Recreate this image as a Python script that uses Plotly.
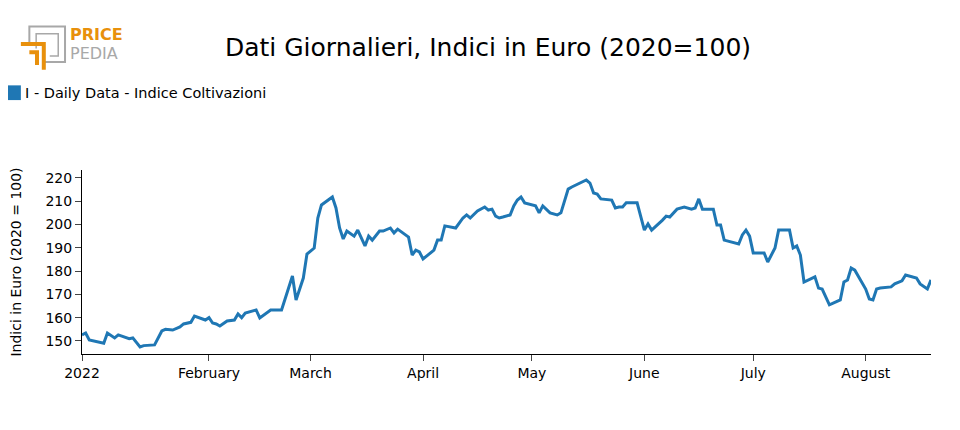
import datetime as dt
import plotly.graph_objects as go

# day offsets from 2022-01-01 and index values
days = [-4, -3, -2, 0, 2, 3, 5, 6, 9, 10, 12, 13, 16, 18, 19, 21, 23, 24, 26, 27, 30,
        31, 32, 33, 34, 36, 38, 39, 40, 41, 44, 45, 47, 48, 51, 52, 53, 54, 55, 57, 58,
        60, 61, 62, 65, 66, 67, 68, 69, 71, 72, 74, 75, 76, 78, 79, 81, 82, 83, 85, 86, 87, 88, 89,
        90, 93, 94, 95, 96, 99, 101, 102, 103, 105, 107, 108, 109, 110, 111, 112, 114, 115, 116, 117, 118,
        121, 122, 123, 125, 127, 128, 130, 131, 135, 136, 137, 138, 139, 142, 143, 144, 145, 146, 149, 150,
        151, 152, 153, 156, 157, 158, 160, 162, 163, 164, 165, 166, 167, 170, 171, 172, 173, 177, 178, 179, 180, 181,
        184, 185, 187, 188, 191, 192, 193, 194, 195, 198, 199, 200, 202, 205, 206, 207, 208, 209, 212,
        213, 214, 215, 216, 219, 220, 221, 222, 223, 226, 227, 229, 230]
values = [152.6, 153.4, 150.4, 149.6, 149.0, 153.4, 151.3, 152.6, 151.0, 151.3, 147.4, 148.0, 148.3, 154.3, 155.0,
          154.7, 156.0, 157.3, 158.0, 160.7, 159.0,
          160.0, 157.7, 157.3, 156.4, 158.6, 159.0, 161.6, 160.0, 162.0, 163.3, 159.9, 162.0, 163.3, 163.3, 168.5,
          172.7, 177.9, 167.6, 177.0, 187.3,
          189.9, 202.8, 208.4, 211.8, 207.1, 198.5, 193.8, 197.2, 195.0, 197.6, 190.8, 195.0, 193.3, 197.2, 197.2,
          198.5, 196.4, 198.0, 195.5, 194.6, 186.9, 189.0, 188.2,
          185.2, 189.0, 193.3, 193.3, 199.4, 198.5, 202.8, 204.1, 202.8, 205.8, 207.5, 206.2, 206.6, 203.6, 202.8,
          203.2, 204.1, 208.0, 210.5, 211.8, 209.3,
          208.0, 205.0, 208.0, 205.0, 204.1, 205.0, 215.2, 216.1, 219.1, 217.8, 213.5, 213.1, 211.0, 210.5, 207.1,
          207.5, 207.5, 209.3, 209.3, 202.8,
          197.6, 200.2, 197.6, 201.9, 203.6, 203.2, 206.6, 207.5, 207.1, 206.6, 207.1, 211.0, 206.6, 206.6, 199.8,
          199.8, 193.3, 191.6, 195.5, 197.6, 195.0, 187.8,
          187.8, 183.9, 189.9, 197.6, 197.6, 189.9, 190.8, 186.9, 175.3, 177.5, 172.7, 172.3, 165.5, 167.6, 175.3,
          176.2, 181.3, 180.4, 172.3,
          168.0, 167.6, 172.3, 172.7, 173.2, 174.5, 175.3, 175.8, 178.3, 177.0, 174.5, 172.3, 176.2]
series_name = "I - Daily Data - Indice Coltivazioni"

start = dt.date(2022, 1, 1)
dates = [start + dt.timedelta(days=d) for d in days]

tick_vals = ["2021-12-28", "2022-02-01", "2022-03-01", "2022-04-01", "2022-05-01",
             "2022-06-01", "2022-07-01", "2022-08-01"]
tick_text = ["2022", "February", "March", "April", "May", "June", "July", "August"]

BLUE = "#1f77b4"
fig = go.Figure()
fig.add_trace(go.Scatter(x=dates, y=values, mode="lines", showlegend=False,
                         line=dict(color=BLUE, width=3)))

fig.update_layout(
    width=960, height=430,
    font=dict(family="DejaVu Sans", size=14, color="black"),
    plot_bgcolor="white", paper_bgcolor="white",
    margin=dict(l=74, r=37, t=162, b=84),
    title=dict(text="Dati Giornalieri, Indici in Euro (2020=100)", x=0.5, xanchor="center",
               y=0.909, yanchor="middle", font=dict(size=25)),
    showlegend=False,
    xaxis=dict(range=["2021-12-28", "2022-08-19"], tickvals=tick_vals, ticktext=tick_text,
               showline=True, linecolor="black", ticks="outside", ticklen=6, showgrid=False,
               zeroline=False, automargin=False),
    yaxis=dict(range=[144.4, 223.4], dtick=10, showline=True, linecolor="black", ticks="outside",
               ticklen=6, showgrid=False, zeroline=False, automargin=False,
               title=dict(text="Indici in Euro (2020 = 100)", font=dict(size=14), standoff=26)),
)

# legend drawn by hand so it does not push the margins
fig.add_shape(type="rect", xref="paper", yref="paper", x0=-0.089, x1=-0.072, y0=1.38, y1=1.46,
              fillcolor=BLUE, line=dict(width=0))
fig.add_annotation(text=series_name, xref="paper", yref="paper", x=-0.07, y=1.42, xanchor="left",
                   yanchor="middle", showarrow=False, font=dict(size=14.5))

# Pricepedia logo
GRAY = "#a8a8a8"
ORANGE = "#e8900c"
fig.add_shape(type="path", xref="paper", yref="paper",
              path="M -0.062 1.68 L -0.062 1.78 L -0.02 1.78 L -0.02 1.587 L -0.045 1.587",
              line=dict(color=GRAY, width=2))
fig.add_shape(type="path", xref="paper", yref="paper",
              path="M -0.054 1.66 L -0.054 1.74 L -0.028 1.74 L -0.028 1.62 L -0.038 1.62",
              line=dict(color=GRAY, width=1.5))
fig.add_shape(type="path", xref="paper", yref="paper",
              path="M -0.072 1.685 L -0.045 1.685 L -0.045 1.545",
              line=dict(color=ORANGE, width=4))
fig.add_shape(type="path", xref="paper", yref="paper",
              path="M -0.062 1.64 L -0.053 1.64 L -0.053 1.57",
              line=dict(color=ORANGE, width=4))
fig.add_annotation(text="<b>PRICE</b>", xref="paper", yref="paper", x=-0.017, y=1.735, xanchor="left",
                   yanchor="middle", showarrow=False, font=dict(size=16, color=ORANGE))
fig.add_annotation(text="PEDIA", xref="paper", yref="paper", x=-0.017, y=1.632, xanchor="left",
                   yanchor="middle", showarrow=False, font=dict(size=16, color=GRAY))

fig.write_html("out.html")
